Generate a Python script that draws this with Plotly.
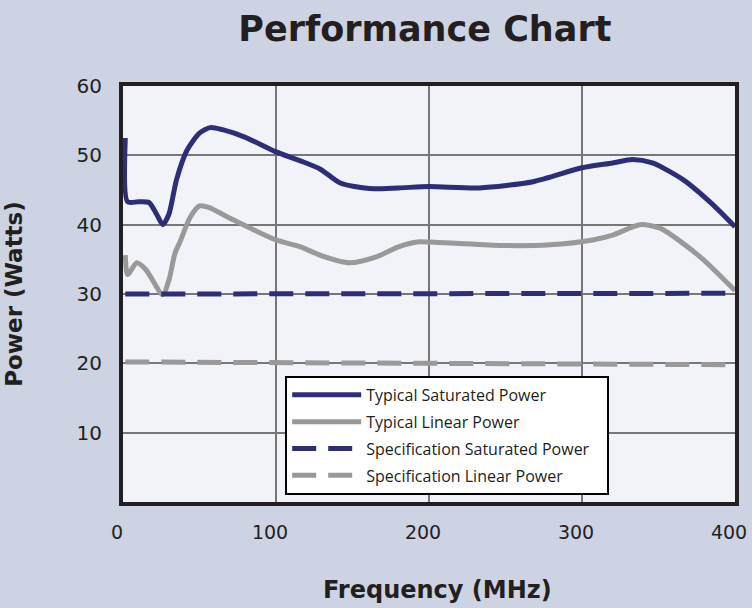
import plotly.graph_objects as go

# Data
sat_x = [1.5, 3, 10, 17, 22, 26, 30, 35, 42, 50, 57, 65, 80, 100, 116, 129, 142, 161, 180, 200, 233, 268, 300, 320, 333, 346, 366, 385, 400]
sat_y = [52.5, 43.3, 43.3, 43.2, 41.5, 40.0, 41.5, 46.5, 50.8, 53.2, 54.0, 53.7, 52.6, 50.5, 49.2, 48.0, 46.0, 45.2, 45.3, 45.5, 45.3, 46.2, 48.2, 48.9, 49.4, 48.9, 46.5, 43.0, 39.7]

lin_x = [1.5, 3, 9, 15, 26, 30, 34, 37, 44, 50, 56, 72, 100, 116, 130, 148, 166, 180, 192, 200, 246, 279, 307, 320, 338, 351, 377, 400]
lin_y = [35.6, 32.8, 34.5, 33.5, 29.9, 32.0, 35.9, 37.4, 41.1, 42.7, 42.5, 40.7, 37.8, 36.8, 35.5, 34.5, 35.4, 36.8, 37.5, 37.5, 37.0, 37.1, 37.8, 38.5, 40.0, 39.5, 35.4, 30.5]

spec_x = [1.5, 400]
spec_sat_y = [30.0, 30.1]
spec_lin_y = [20.2, 19.8]

x_ticks = [0, 100, 200, 300, 400]
y_ticks = [10, 20, 30, 40, 50, 60]

navy = "#2E2D7A"
gray = "#999999"

fig = go.Figure()
fig.add_trace(go.Scatter(x=sat_x, y=sat_y, mode="lines", name="Typical Saturated Power", legendgroup="a",
                         line=dict(color=navy, width=5, shape="spline", smoothing=0.7)))
fig.add_trace(go.Scatter(x=lin_x, y=lin_y, mode="lines", name="Typical Linear Power", legendgroup="b",
                         line=dict(color=gray, width=5, shape="spline", smoothing=0.7)))
fig.add_trace(go.Scatter(x=spec_x, y=spec_sat_y, mode="lines", name="Specification Saturated Power&nbsp;&nbsp;&nbsp;", legendgroup="c",
                         line=dict(color=navy, width=5, dash="24px,12px")))
fig.add_trace(go.Scatter(x=spec_x, y=spec_lin_y, mode="lines", name="Specification Linear Power", legendgroup="d",
                         line=dict(color=gray, width=5, dash="24px,12px")))

fig.update_layout(
    width=752, height=608,
    margin=dict(l=123, r=17, t=86, b=106, autoexpand=False),
    paper_bgcolor="#CDD3E3",
    plot_bgcolor="#F1F3F8",
    title=dict(text="<b>Performance Chart</b>", x=0.565, xanchor="center", y=0.952, yanchor="middle",
               font=dict(family="DejaVu Sans", size=35, color="#231F20")),
    font=dict(family="DejaVu Sans", color="#231F20"),
    legend=dict(x=0.265, y=0.303, xanchor="left", yanchor="top",
                bgcolor="#FFFFFF", bordercolor="#000000", borderwidth=2,
                font=dict(family="Open Sans", size=16, color="#231F20"),
                tracegroupgap=3, itemwidth=69),
    showlegend=True,
)
fig.update_xaxes(range=[0, 400], tickvals=x_ticks, showgrid=True, gridcolor="#777777", gridwidth=1.5,
                 showline=True, linecolor="#231F20", linewidth=4, mirror=True, zeroline=False,
                 automargin=False, ticklabelshift=-6,
                 ticks="", ticklabelstandoff=10, tickfont=dict(family="DejaVu Sans", size=19, color="#231F20"),
                 title=dict(text="<b>&nbsp;&nbsp;Frequency (MHz)</b>", standoff=40,
                            font=dict(family="DejaVu Sans", size=24, color="#231F20")))
fig.update_yaxes(range=[0, 60], tickvals=y_ticks, showgrid=True, gridcolor="#777777", gridwidth=1.5,
                 showline=True, linecolor="#231F20", linewidth=4, mirror=True, zeroline=False,
                 automargin=False,
                 ticks="", ticklabelstandoff=13, tickfont=dict(family="DejaVu Sans", size=20, color="#231F20"),
                 title=dict(text="<b>Power (Watts)</b>", standoff=48,
                            font=dict(family="DejaVu Sans", size=23, color="#231F20")))

fig.write_html("out.html", config={"displayModeBar": False},
               post_script="document.body.style.margin='0';document.body.style.padding='0';")
